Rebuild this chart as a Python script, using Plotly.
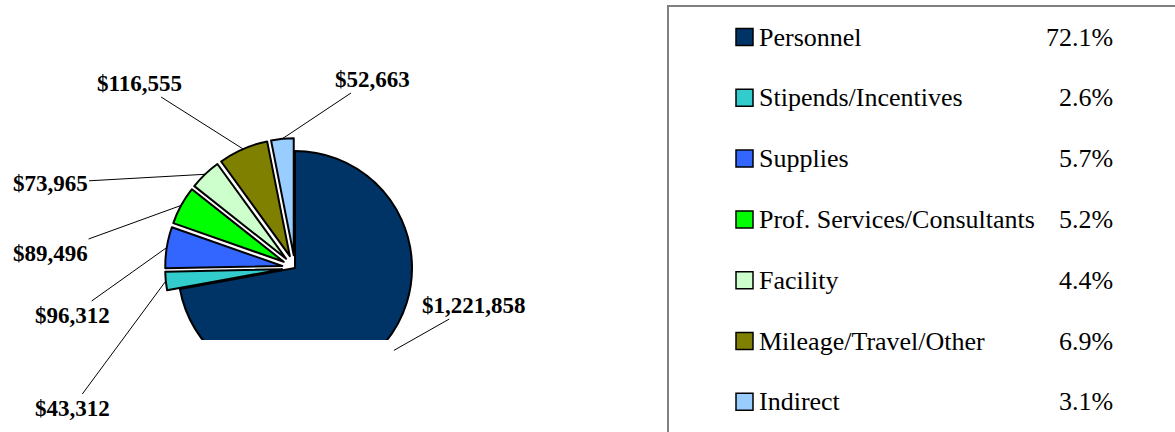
import math
import plotly.graph_objects as go

# ---- data ----
categories = ["Personnel", "Stipends/Incentives", "Supplies", "Prof. Services/Consultants",
              "Facility", "Mileage/Travel/Other", "Indirect"]
amounts = [1221858, 43312, 96312, 89496, 73965, 116555, 52663]
percent_labels = ["72.1%", "2.6%", "5.7%", "5.2%", "4.4%", "6.9%", "3.1%"]
colors = ["#003366", "#33CCCC", "#3366FF", "#00FF00", "#CCFFCC", "#808000", "#99CCFF"]

# ---- layout constants (pixels) ----
W, H = 1175, 432
CX, CY, R = 295, 268, 117
PULL = 0.11
pulls = [0] + [PULL] * (len(amounts) - 1)
# label text centres (px), in category order
label_centres = [(474, 305), (72, 408), (72, 315), (50, 253), (50, 183), (139, 83), (372, 79)]
SERIF = "Liberation Serif, Times New Roman, serif"

half = R * (1 + PULL)
dom_x = [(CX - half) / W, (CX + half) / W]
dom_y = [(H - CY - half) / H, (H - CY + half) / H]

fig = go.Figure()
fig.add_trace(go.Pie(
    labels=categories, values=amounts, sort=False, direction="clockwise", rotation=0,
    pull=pulls, textinfo="none", hoverinfo="label+value+percent",
    marker=dict(colors=colors, line=dict(color="black", width=2)),
    domain=dict(x=dom_x, y=dom_y), showlegend=False,
))

shapes = []
# white mask that crops the bottom of the pie
shapes.append(dict(type="rect", xref="paper", yref="paper", layer="above",
                   x0=0, x1=655 / W, y0=0, y1=(H - 340) / H,
                   fillcolor="white", line=dict(width=0)))
# legend frame
shapes.append(dict(type="rect", xref="paper", yref="paper", layer="above",
                   x0=668 / W, x1=1.02, y0=-0.05, y1=1 - 6 / H,
                   fillcolor="rgba(0,0,0,0)", line=dict(color="#808080", width=2)))

annotations = []
total = sum(amounts)
cum = 0.0
for i, (cat, v) in enumerate(zip(categories, amounts)):
    frac = v / total
    mid = (cum + frac / 2) * 2 * math.pi
    cum += frac
    rr = R * (1 + PULL) if pulls[i] else R * 1.1
    px = CX + rr * math.sin(mid)
    py = CY - rr * math.cos(mid)
    lx, ly = label_centres[i]
    annotations.append(dict(
        x=px / W, y=1 - py / H, xref="paper", yref="paper",
        ax=lx - px, ay=ly - py, axref="pixel", ayref="pixel",
        text=f"${v:,}", showarrow=True, arrowhead=0, arrowwidth=1, arrowcolor="black",
        standoff=0, startstandoff=0,
        font=dict(family=SERIF, size=23, color="black", weight="bold"),
    ))

# legend rows
row_y0, row_pitch = 37, 60.8
for i, (cat, pct, col) in enumerate(zip(categories, percent_labels, colors)):
    yc = row_y0 + i * row_pitch
    shapes.append(dict(type="rect", xref="paper", yref="paper", layer="above",
                       x0=736 / W, x1=753 / W, y0=1 - (yc + 8.5) / H, y1=1 - (yc - 8.5) / H,
                       fillcolor=col, line=dict(color="black", width=1.5)))
    annotations.append(dict(x=757 / W, y=1 - yc / H, xref="paper", yref="paper",
                            xanchor="left", yanchor="middle", showarrow=False, text=cat,
                            font=dict(family=SERIF, size=26, color="black")))
    annotations.append(dict(x=1115 / W, y=1 - yc / H, xref="paper", yref="paper",
                            xanchor="right", yanchor="middle", showarrow=False, text=pct,
                            font=dict(family=SERIF, size=26, color="black")))

fig.update_layout(
    width=W, height=H, margin=dict(l=0, r=0, t=0, b=0),
    paper_bgcolor="white", plot_bgcolor="white", showlegend=False,
    shapes=shapes, annotations=annotations,
)
fig.write_html("out.html", config={"displayModeBar": False},
               post_script="document.body.style.margin='0';")
